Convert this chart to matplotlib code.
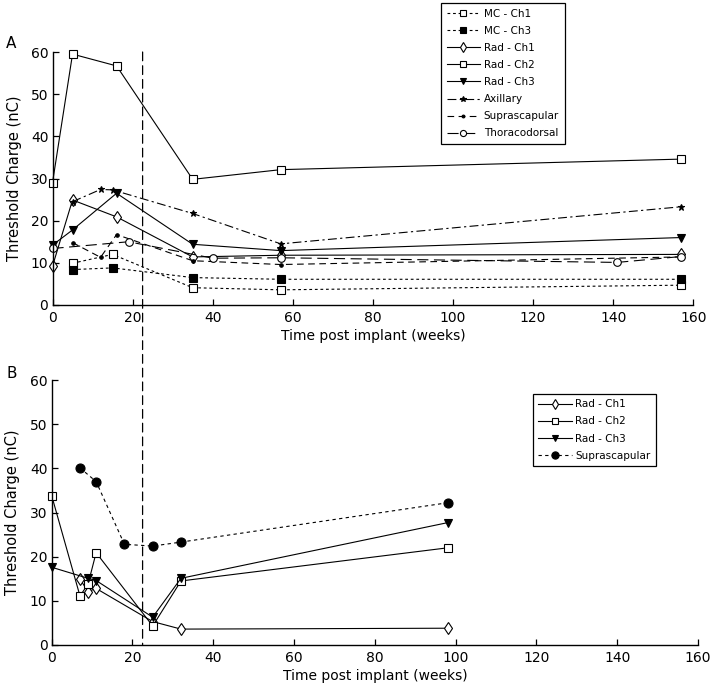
import matplotlib
matplotlib.use("Agg")
import matplotlib.pyplot as plt
from matplotlib.patches import ConnectionPatch

# ---------------- Panel A data ----------------
mc_t = [5, 15, 35, 57, 157]
mc_ch1 = [9.9, 12.0, 4.1, 3.6, 4.7]
mc_ch3 = [8.4, 8.8, 6.5, 6.1, 6.1]
rad_t = [0, 5, 16, 35, 57, 157]
rad_ch1 = [9.2, 24.9, 20.9, 11.4, 11.8, 12.0]
rad_ch2 = [29.0, 59.5, 56.7, 29.8, 32.1, 34.6]
rad_ch3 = [14.2, 17.8, 26.5, 14.4, 12.9, 16.0]
axillary_t = [5, 12, 15, 35, 57, 157]
axillary = [24.5, 27.4, 27.3, 21.7, 14.5, 23.3]
supra_t = [5, 12, 16, 35, 57, 157]
supra = [14.8, 11.3, 16.7, 10.5, 9.6, 11.4]
thoraco_t = [0, 19, 40, 57, 141, 157]
thoraco = [13.4, 15.0, 11.1, 11.2, 10.1, 11.5]

# ---------------- Panel B data ----------------
b_ch1_t = [7, 9, 11, 25, 32, 98]
b_ch1 = [14.9, 12.1, 12.8, 5.3, 3.6, 3.8]
b_ch2_t = [0, 7, 9, 11, 25, 32, 98]
b_ch2 = [33.8, 11.1, 13.8, 20.9, 4.3, 14.5, 22.0]
b_ch3_t = [0, 9, 11, 25, 32, 98]
b_ch3 = [17.6, 15.1, 14.6, 6.3, 15.1, 27.7]
b_supra_t = [7, 11, 18, 25, 32, 98]
b_supra = [40.1, 37.0, 22.8, 22.4, 23.3, 32.2]

implant_week = 22.5
xticks = [0, 20, 40, 60, 80, 100, 120, 140, 160]
yticks = [0, 10, 20, 30, 40, 50, 60]

plt.rcParams['font.family'] = ['DejaVu Sans']
fig = plt.figure(figsize=(7.14, 6.93), dpi=100)
W, H = 714, 693
axA = fig.add_axes([52.5 / W, 1 - 305 / H, (693.3 - 52.5) / W, (305 - 52) / H])
axB = fig.add_axes([51.7 / W, 1 - 645 / H, (698 - 51.7) / W, (645 - 380) / H])

lw = 0.8
common = dict(color='black', linewidth=lw, clip_on=False, markeredgewidth=0.8)

# Panel A
axA.plot(mc_t, mc_ch1, linestyle=(0, (2.5, 2.5)), marker='s', markersize=5.2,
         markerfacecolor='white', label='MC - Ch1', **common)
axA.plot(mc_t, mc_ch3, linestyle=(0, (2.5, 2.5)), marker='s', markersize=5.2,
         markerfacecolor='black', label='MC - Ch3', **common)
axA.plot(rad_t, rad_ch1, linestyle='-', marker='d', markersize=6,
         markerfacecolor='white', label='Rad - Ch1', **common)
axA.plot(rad_t, rad_ch2, linestyle='-', marker='s', markersize=5.5,
         markerfacecolor='white', label='Rad - Ch2', **common)
axA.plot(rad_t, rad_ch3, linestyle='-', marker='v', markersize=6,
         markerfacecolor='black', label='Rad - Ch3', **common)
axA.plot(axillary_t, axillary, linestyle=(0, (8, 3, 2, 3)), marker='*', markersize=5,
         markerfacecolor='black', label='Axillary', **common)
axA.plot(supra_t, supra, linestyle=(0, (6, 4)), marker='.', markersize=5,
         markerfacecolor='black', label='Suprascapular', **common)
axA.plot(thoraco_t, thoraco, linestyle=(0, (10, 5)), marker='o', markersize=5.5,
         markerfacecolor='white', label='Thoracodorsal', **common)

# Panel B
axB.plot(b_ch1_t, b_ch1, linestyle='-', marker='d', markersize=6,
         markerfacecolor='white', label='Rad - Ch1', **common)
axB.plot(b_ch2_t, b_ch2, linestyle='-', marker='s', markersize=5.5,
         markerfacecolor='white', label='Rad - Ch2', **common)
axB.plot(b_ch3_t, b_ch3, linestyle='-', marker='v', markersize=6,
         markerfacecolor='black', label='Rad - Ch3', **common)
axB.plot(b_supra_t, b_supra, linestyle=(0, (3, 3)), marker='o', markersize=6.5,
         markerfacecolor='black', label='Suprascapular', **common)

for ax in (axA, axB):
    ax.set_xlim(0, 160)
    ax.set_ylim(0, 60)
    ax.set_xticks(xticks)
    ax.set_yticks(yticks)
    for s in ('top', 'right'):
        ax.spines[s].set_visible(False)
    for s in ('left', 'bottom'):
        ax.spines[s].set_linewidth(1.0)
        ax.spines[s].set_color('black')
    ax.tick_params(axis='both', direction='in', length=4.5, width=0.9, labelsize=10)
    ax.tick_params(axis='x', pad=4)
    ax.tick_params(axis='y', pad=3)
    ax.set_xlabel('Time post implant (weeks)', fontsize=10, labelpad=3)
    ax.set_ylabel('Threshold Charge (nC)', fontsize=10.5)
    ax.yaxis.set_label_coords(-31 / 641, 0.5)

# Dashed implant line spanning both panels
con = ConnectionPatch(xyA=(implant_week, 60), coordsA=axA.transData,
                      xyB=(implant_week, 0), coordsB=axB.transData,
                      linestyle=(0, (7, 4)), color='black', linewidth=0.9)
fig.add_artist(con)

# Panel labels
fig.text(6 / W, 1 - 48 / H, 'A', fontsize=11)
fig.text(6 / W, 1 - 378 / H, 'B', fontsize=11)

legA = axA.legend(loc='upper left', bbox_to_anchor=(441 / W, 1 - 3 / H),
                  bbox_transform=fig.transFigure, fontsize=7.5, frameon=True,
                  fancybox=False, edgecolor='black', framealpha=1,
                  handlelength=3.2, labelspacing=0.68, borderpad=0.55,
                  handletextpad=0.35, borderaxespad=0, markerscale=0.8)
legA.get_frame().set_linewidth(0.9)
legB = axB.legend(loc='upper left', bbox_to_anchor=(533 / W, 1 - 394 / H),
                  bbox_transform=fig.transFigure, fontsize=7.5, frameon=True,
                  fancybox=False, edgecolor='black', framealpha=1,
                  handlelength=3.2, labelspacing=0.7, borderpad=0.5,
                  handletextpad=0.35, borderaxespad=0, markerscale=0.8)
legB.get_frame().set_linewidth(0.9)

fig.savefig('out.png', dpi=100)
